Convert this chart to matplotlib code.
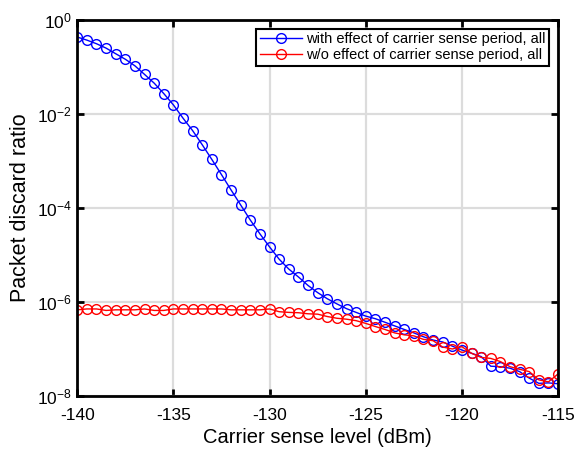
import numpy as np
import matplotlib
matplotlib.use('Agg')
import matplotlib.pyplot as plt
from matplotlib.ticker import LogLocator, NullLocator

plt.rcParams['font.family'] = ['Liberation Sans', 'DejaVu Sans']
plt.rcParams['axes.unicode_minus'] = False

# carrier sense level (dBm), every 0.5 dB
x = np.arange(-140, -114.9, 0.5)

# packet discard ratio
with_cs = [4.3e-1, 3.7e-1, 3.1e-1, 2.5e-1, 1.9e-1, 1.45e-1, 1.05e-1, 6.9e-2, 4.5e-2, 2.7e-2,
           1.55e-2, 8.1e-3, 4.4e-3, 2.2e-3, 1.07e-3, 5.1e-4, 2.4e-4, 1.15e-4, 5.5e-5, 2.8e-5,
           1.48e-5, 8.1e-6, 5.0e-6, 3.4e-6, 2.24e-6, 1.58e-6, 1.17e-6, 9.1e-7, 7.2e-7, 6.0e-7,
           5.0e-7, 4.4e-7, 3.7e-7, 3.1e-7, 2.6e-7, 2.2e-7, 1.82e-7, 1.55e-7, 1.41e-7, 1.15e-7,
           9.5e-8, 8.1e-8, 6.9e-8, 4.3e-8, 4.2e-8, 3.9e-8, 3.3e-8, 2.4e-8, 1.86e-8, 1.9e-8,
           1.82e-8]
without_cs = [6.8e-7, 7.1e-7, 7.1e-7, 6.6e-7, 6.8e-7, 6.8e-7, 6.8e-7, 7.1e-7, 6.6e-7, 6.6e-7,
              7.1e-7, 7.1e-7, 7.1e-7, 7.1e-7, 7.1e-7, 7.1e-7, 6.8e-7, 6.8e-7, 6.8e-7, 6.8e-7,
              7.1e-7, 6.2e-7, 6.0e-7, 5.9e-7, 5.6e-7, 5.5e-7, 4.9e-7, 4.5e-7, 4.3e-7, 4.0e-7,
              3.5e-7, 3.0e-7, 2.6e-7, 2.2e-7, 2.0e-7, 1.9e-7, 1.6e-7, 1.5e-7, 1.1e-7, 1.0e-7,
              1.12e-7, 8.1e-8, 6.6e-8, 6.3e-8, 5.4e-8, 4.2e-8, 3.7e-8, 3.3e-8, 2.2e-8, 2.0e-8,
              2.95e-8]

fig = plt.figure(figsize=(5.85, 4.5), dpi=100)
ax = fig.add_axes([0.132, 0.12, 0.822, 0.836])

ax.semilogy(x, with_cs, '-o', color='#0000ff', lw=1, ms=7, mfc='none', mew=1,
            label='with effect of carrier sense period, all')
ax.semilogy(x, without_cs, '-o', color='#ff0000', lw=1, ms=7, mfc='none', mew=1,
            label='w/o effect of carrier sense period, all')

ax.set_xlim(-140, -115)
ax.set_ylim(1e-8, 1e0)
ax.set_xticks([-140, -135, -130, -125, -120, -115])
ax.yaxis.set_major_locator(LogLocator(base=100))
ax.yaxis.set_minor_locator(NullLocator())

ax.grid(True, color='#dcdcdc', lw=1.6)
ax.set_axisbelow(True)
for s in ax.spines.values():
    s.set_linewidth(2)
ax.tick_params(direction='in', which='both', top=True, right=True, width=2, length=5,
               labelsize=12.5)
ax.tick_params(axis='x', pad=9)
ax.tick_params(axis='y', pad=4)

ax.set_xlabel('Carrier sense level (dBm)', fontsize=14.5, labelpad=3)
ax.set_ylabel('Packet discard ratio', fontsize=15.5, labelpad=4)

leg = ax.legend(loc='upper right', fontsize=10.5, fancybox=False, framealpha=1,
                edgecolor='black', handlelength=2.9, borderpad=0.25, labelspacing=0.15,
                handletextpad=0.3, borderaxespad=0.6)
leg.get_frame().set_linewidth(1.5)

fig.savefig('out.png', dpi=100)
